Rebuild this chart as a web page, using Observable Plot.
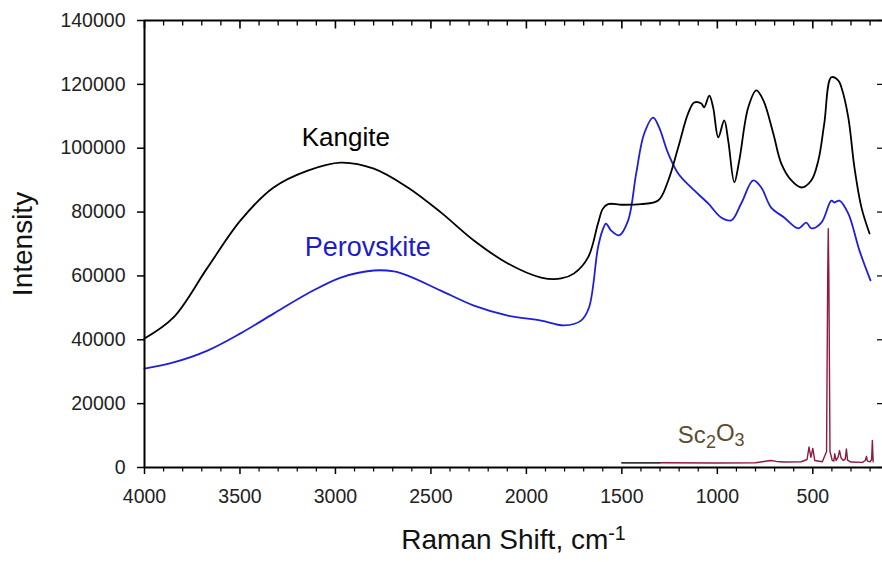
<!DOCTYPE html>
<html>
<head>
<meta charset="utf-8">
<script src="https://cdn.jsdelivr.net/npm/d3@7"></script>
<script src="https://cdn.jsdelivr.net/npm/@observablehq/plot@0.6"></script>
<style>
  html, body { margin: 0; padding: 0; background: #ffffff; }
  #chart svg { display: block; font-family: "Liberation Sans", Arial, sans-serif; }
</style>
</head>
<body>
<div id="chart"></div>
<script>
// ---- Data (Raman shift in cm-1, intensity) ----
const kangiteShift = [4000, 3848, 3670, 3497, 3324, 3145, 2972, 2799, 2621, 2448, 2275, 2097, 1923, 1818, 1750, 1677, 1625, 1600, 1572, 1500, 1400, 1310, 1257, 1205, 1153, 1121, 1084, 1069, 1042, 1022, 995, 964, 943, 911, 885, 838, 796, 759, 707, 665, 612, 560, 508, 471, 440, 403, 366, 350, 314, 282, 245, 203];
const kangiteInt = [40400, 47000, 62600, 77400, 87700, 93000, 95500, 93600, 87700, 79900, 71100, 63900, 59500, 59200, 60800, 65800, 76400, 81000, 82500, 82300, 82500, 83600, 89900, 100200, 110900, 114300, 114000, 112800, 116500, 112800, 103400, 108700, 102400, 89300, 96200, 112800, 118100, 115000, 104600, 95200, 89900, 87700, 89900, 96200, 107700, 122200, 121200, 119000, 109600, 94000, 81400, 73300];

const perovShift = [4000, 3848, 3670, 3497, 3324, 3145, 2972, 2799, 2694, 2621, 2448, 2275, 2097, 1923, 1803, 1714, 1672, 1625, 1600, 1583, 1556, 1514, 1467, 1425, 1383, 1336, 1305, 1257, 1205, 1137, 1048, 980, 927, 875, 812, 770, 718, 650, 576, 534, 508, 455, 403, 387, 361, 314, 256, 198];
const perovInt = [31000, 32900, 36600, 42000, 48200, 54500, 59500, 61700, 61400, 60100, 55400, 50700, 47600, 46000, 44500, 46000, 50100, 68900, 74500, 76400, 74200, 72700, 77400, 92100, 104600, 109600, 106500, 98300, 92100, 87700, 82700, 78300, 77400, 82700, 89900, 87700, 81400, 78300, 74900, 76700, 74900, 76700, 83600, 83000, 83600, 79500, 68000, 58600];

const scShift = [1500, 1300, 1000, 800, 720, 690, 650, 560, 530, 520, 510, 500, 490, 450, 428, 422, 419, 416, 410, 398, 390, 385, 378, 368, 360, 352, 340, 330, 324, 318, 300, 240, 225, 219, 214, 200, 192, 188, 184];
const scInt = [1500, 1500, 1400, 1500, 2200, 1900, 1700, 1800, 2500, 6400, 3200, 6000, 2200, 1800, 5000, 60000, 74800, 60000, 5000, 2200, 2000, 4300, 2200, 3200, 5300, 3000, 2200, 2600, 5800, 2300, 1700, 1600, 2200, 3500, 2000, 1800, 2500, 8500, 1800];
const scDarkShift = [1500, 1300];
const scDarkInt = [1500, 1500];

const yTicks = [0, 20000, 40000, 60000, 80000, 100000, 120000, 140000];
const xMajorTicks = [4000, 3500, 3000, 2500, 2000, 1500, 1000, 500];
const xMinorTicks = d3.range(200, 4001, 100).filter(d => d % 500 !== 0);

const labelNames = ["Kangite", "Perovskite", "Sc2O3"];
const labelX = [2946, 2831, 1032];
const labelY = [103400, 68900, 10200];
const labelColors = ["#000000", "#1c1cc8", "#5e4c30"];
const labelSizes = [26, 27, 24];

const kangite = kangiteShift.map((x, i) => ({x, y: kangiteInt[i]}));
const perov = perovShift.map((x, i) => ({x, y: perovInt[i]}));
const sc = scShift.map((x, i) => ({x, y: scInt[i]}));
const scDark = scDarkShift.map((x, i) => ({x, y: scDarkInt[i]}));
const seriesLabels = labelNames.map((name, i) => ({name, x: labelX[i], y: labelY[i], color: labelColors[i], size: labelSizes[i]}));

const W = 882, H = 562, mT = 20, mB = 95, mL = 144, mR = 0;
const plotH = H - mT - mB, plotW = W - mL - mR;
const yMax = 140000, xLeft = 4000, xRight = 135;
const pxY = yMax / plotH;                    // intensity units per pixel
const pxX = (xLeft - xRight) / plotW;        // shift units per pixel

const chart = Plot.plot({
  width: W,
  height: H,
  marginTop: mT,
  marginBottom: mB,
  marginLeft: mL,
  marginRight: mR,
  style: {fontFamily: '"Liberation Sans", Arial, sans-serif', fontSize: "19.5px", color: "#222", background: "#fff"},
  x: {domain: [xLeft, xRight]},
  y: {domain: [0, yMax]},
  marks: [
    // series
    Plot.line(sc, {x: "x", y: "y", stroke: "#8e1a3c", strokeWidth: 1.4}),
    Plot.line(scDark, {x: "x", y: "y", stroke: "#333", strokeWidth: 1.4}),
    Plot.line(perov, {x: "x", y: "y", stroke: "#1f1fd8", strokeWidth: 1.8, curve: "catmull-rom"}),
    Plot.line(kangite, {x: "x", y: "y", stroke: "#000000", strokeWidth: 1.8, curve: "catmull-rom"}),
    // frame lines
    Plot.ruleX([xLeft], {stroke: "#000", strokeWidth: 2}),
    Plot.ruleY([0], {stroke: "#000", strokeWidth: 2}),
    Plot.ruleY([yMax], {stroke: "#000", strokeWidth: 2}),
    // left axis
    Plot.axisY({ticks: yTicks, tickSize: 7, tickPadding: 12, fontSize: 19.5, tickFormat: d => String(d), label: null, stroke: "#000", strokeWidth: 1.5}),
    // bottom axis
    Plot.axisX({ticks: xMajorTicks, tickSize: 7, tickPadding: 15, fontSize: 19.5, tickFormat: d => String(d), label: null, stroke: "#000", strokeWidth: 1.5}),
    Plot.axisX({ticks: xMinorTicks, tickSize: 4.5, tickFormat: () => "", label: null, stroke: "#000", strokeWidth: 1.2}),
    // top inward ticks
    Plot.link(xMajorTicks, {x1: d => d, x2: d => d, y1: yMax - 0.5 * pxY, y2: yMax - 8 * pxY, stroke: "#000", strokeWidth: 1.6}),
    Plot.link(xMinorTicks, {x1: d => d, x2: d => d, y1: yMax - 0.5 * pxY, y2: yMax - 5 * pxY, stroke: "#000", strokeWidth: 1.3}),
    // right inward ticks
    Plot.ruleY(yTicks, {y: d => d, x1: xRight, x2: xRight + 5 * pxX, stroke: "#000", strokeWidth: 1.2}),
    // series labels
    Plot.text(seriesLabels, {x: "x", y: "y", text: "name", fill: d => d.color, fontSize: d => d.size, textAnchor: "middle"}),
    // axis titles
    Plot.text(["Intensity"], {frameAnchor: "left", dx: -121, rotate: -90, fontSize: 28, fill: "#111", textAnchor: "middle"}),
    Plot.text(["Raman Shift, cm-1"], {frameAnchor: "bottom", dy: 81, fontSize: 28, fill: "#111", textAnchor: "middle"})
  ]
});

document.getElementById("chart").appendChild(chart);

const svg = d3.select(chart);
svg.selectAll("text").each(function() {
  const t = d3.select(this);
  const s = t.text();
  if (s === "Sc2O3") {
    t.text("");
    t.append("tspan").text("Sc");
    t.append("tspan").attr("dy", "0.3em").attr("font-size", "0.75em").text("2");
    t.append("tspan").attr("dy", "-0.3em").text("O");
    t.append("tspan").attr("dy", "0.3em").attr("font-size", "0.75em").text("3");
  } else if (s === "Raman Shift, cm-1") {
    t.text("");
    t.append("tspan").text("Raman Shift, cm");
    t.append("tspan").attr("dy", "-0.45em").attr("font-size", "0.7em").text("-1");
  }
});
</script>
</body>
</html>
